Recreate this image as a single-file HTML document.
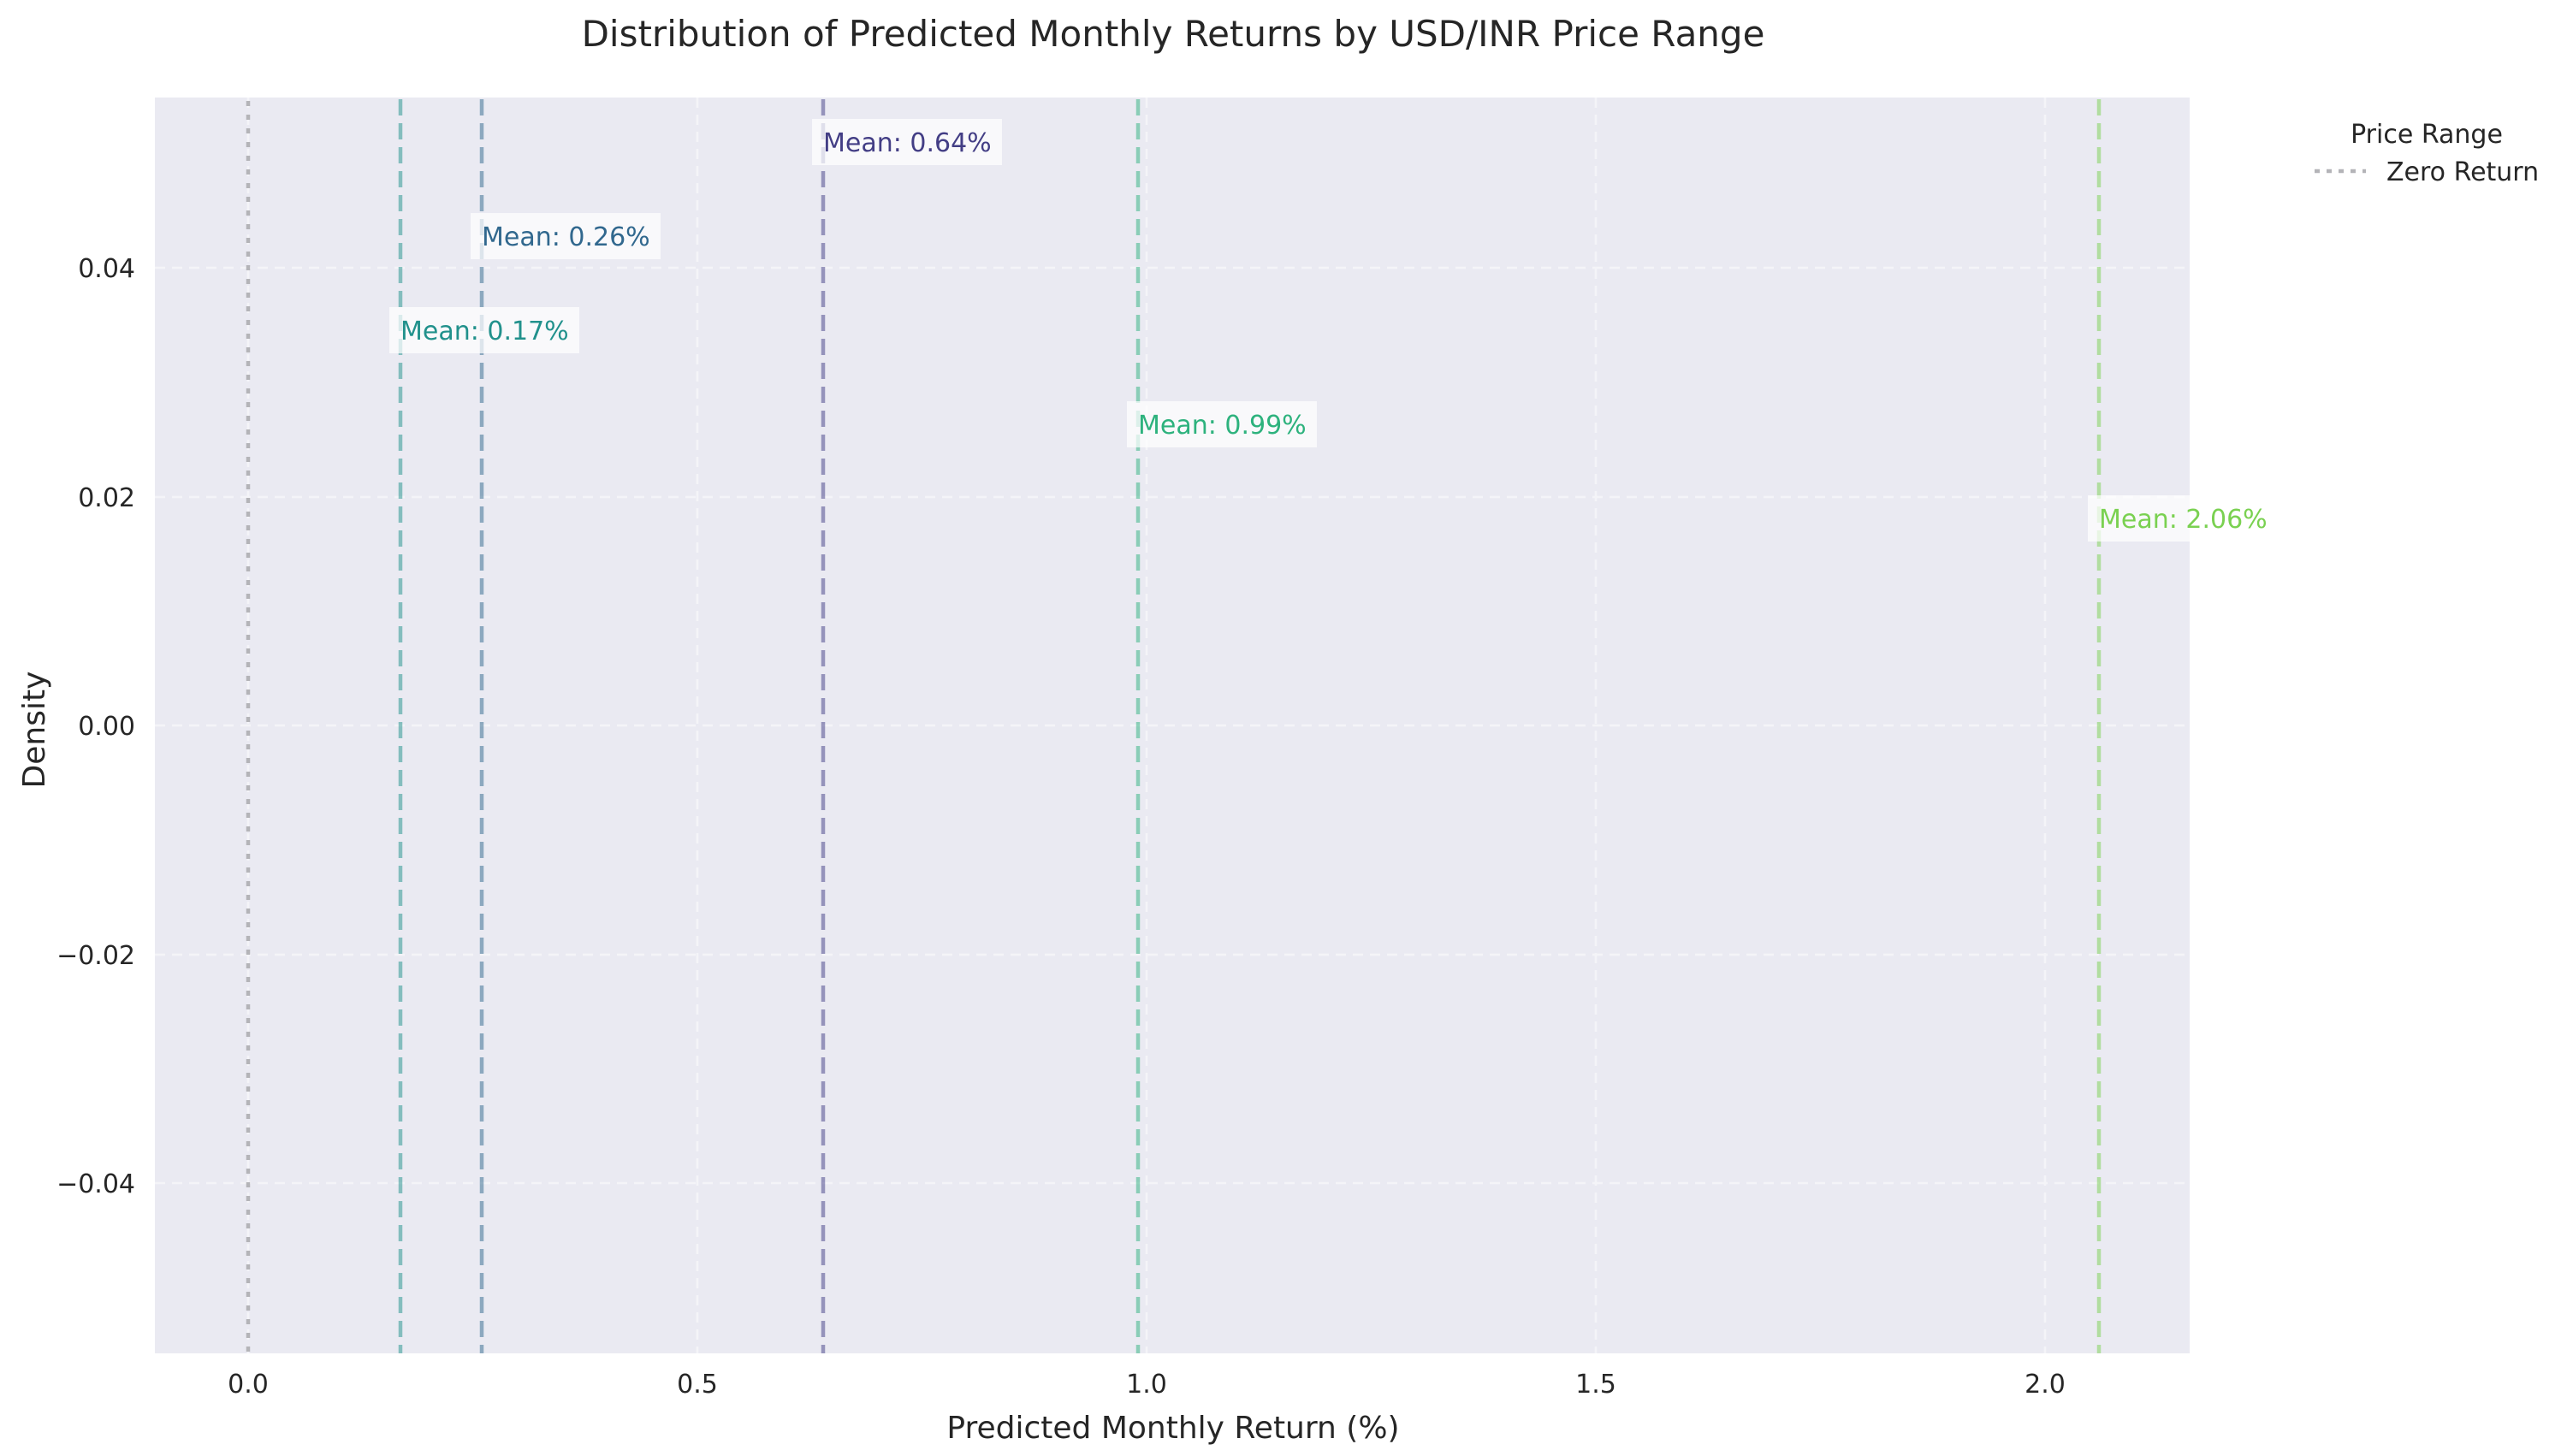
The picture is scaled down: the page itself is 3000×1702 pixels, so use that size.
<!DOCTYPE html>
<html><head><meta charset="utf-8"><style>
html,body{margin:0;padding:0;background:#fff;}
svg{display:block;font-family:"DejaVu Sans","Liberation Sans",sans-serif;}
</style></head><body>
<svg width="3000" height="1702" viewBox="0 0 3000 1702" xmlns="http://www.w3.org/2000/svg">
<rect x="0" y="0" width="3000" height="1702" fill="#fff"/>
<rect x="181" y="114" width="2378" height="1468" fill="#eaeaf2"/>
<g stroke="#fff" stroke-width="2.5" stroke-dasharray="12 8" opacity="0.5">
<line x1="290" y1="114" x2="290" y2="1582"/>
<line x1="815" y1="114" x2="815" y2="1582"/>
<line x1="1340" y1="114" x2="1340" y2="1582"/>
<line x1="1865" y1="114" x2="1865" y2="1582"/>
<line x1="2390" y1="114" x2="2390" y2="1582"/>
<line x1="181" y1="313" x2="2559" y2="313"/>
<line x1="181" y1="581" x2="2559" y2="581"/>
<line x1="181" y1="848" x2="2559" y2="848"/>
<line x1="181" y1="1116" x2="2559" y2="1116"/>
<line x1="181" y1="1383" x2="2559" y2="1383"/>
</g>
<line x1="290" y1="118" x2="290" y2="1582" stroke="#b4b4b8" stroke-width="4.5" stroke-dasharray="6 10"/>
<g stroke-width="4.5" stroke-dasharray="19 9" opacity="0.5">
<line x1="468" y1="116" x2="468" y2="1582" stroke="#21918c"/>
<line x1="563" y1="116" x2="563" y2="1582" stroke="#31688e"/>
<line x1="962" y1="116" x2="962" y2="1582" stroke="#433e85"/>
<line x1="1330" y1="116" x2="1330" y2="1582" stroke="#2db27d"/>
<line x1="2453" y1="116" x2="2453" y2="1582" stroke="#7ad151"/>
</g>
<g font-size="30">
<rect x="949" y="139" width="222" height="54" fill="#fff" opacity="0.7"/>
<text x="962" y="177" fill="#433e85">Mean: 0.64%</text>
<rect x="550" y="249" width="222" height="54" fill="#fff" opacity="0.7"/>
<text x="563" y="287" fill="#31688e">Mean: 0.26%</text>
<rect x="455" y="359" width="222" height="54" fill="#fff" opacity="0.7"/>
<text x="468" y="397" fill="#21918c">Mean: 0.17%</text>
<rect x="1317" y="469" width="222" height="54" fill="#fff" opacity="0.7"/>
<text x="1330" y="507" fill="#2db27d">Mean: 0.99%</text>
<rect x="2440" y="579" width="222" height="54" fill="#fff" opacity="0.7"/>
<text x="2453" y="617" fill="#7ad151">Mean: 2.06%</text>
</g>
<g font-size="30" fill="#262626" text-anchor="middle">
<text x="290" y="1628">0.0</text>
<text x="815" y="1628">0.5</text>
<text x="1340" y="1628">1.0</text>
<text x="1865" y="1628">1.5</text>
<text x="2390" y="1628">2.0</text>
</g>
<g font-size="30" fill="#262626" text-anchor="end">
<text x="158" y="324">0.04</text>
<text x="158" y="592">0.02</text>
<text x="158" y="859">0.00</text>
<text x="158" y="1127">−0.02</text>
<text x="158" y="1394">−0.04</text>
</g>
<text x="1371" y="1681" font-size="36" fill="#262626" text-anchor="middle">Predicted Monthly Return (%)</text>
<text transform="translate(52,853) rotate(-90)" font-size="36" fill="#262626" text-anchor="middle">Density</text>
<text x="1371" y="54" font-size="42" fill="#262626" text-anchor="middle">Distribution of Predicted Monthly Returns by USD/INR Price Range</text>
<text x="2836" y="167" font-size="30" fill="#262626" text-anchor="middle">Price Range</text>
<line x1="2705" y1="200" x2="2765" y2="200" stroke="#b4b4b8" stroke-width="4.5" stroke-dasharray="6 8"/>
<text x="2789" y="211" font-size="30" fill="#262626">Zero Return</text>
</svg>
</body></html>
